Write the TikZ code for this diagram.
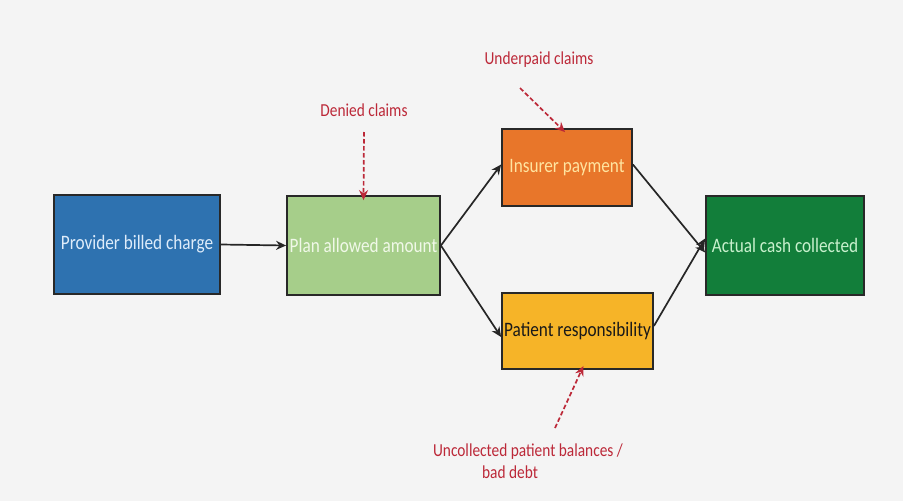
\documentclass[tikz,border=0pt]{standalone}
\usepackage{fontspec}
\setmainfont{Carlito}
\usetikzlibrary{arrows.meta}
\definecolor{bgc}{RGB}{244,244,244}
\definecolor{provc}{RGB}{46,114,176}
\definecolor{planc}{RGB}{166,206,138}
\definecolor{insc}{RGB}{232,118,42}
\definecolor{patc}{RGB}{246,180,40}
\definecolor{actc}{RGB}{18,126,58}
\definecolor{redc}{RGB}{188,40,56}
\definecolor{edgec}{RGB}{40,40,40}
\newcommand{\sq}[1]{\scalebox{0.84}[1]{#1}}
\tikzset{
  box/.style={draw=edgec, line width=1.8pt, minimum width=#1, inner sep=0pt, font=\fontsize{20.5}{24}\selectfont},
  box/.default=150pt,
  conn/.style={-{Stealth[length=10pt,width=9pt]}, line width=1.7pt, black!85},
  dconn/.style={-{Stealth[length=10pt,width=9pt]}, line width=1.7pt, redc, dash pattern=on 4.5pt off 2.5pt},
  lbl/.style={text=redc, font=\fontsize{18.3}{22}\selectfont, align=center, inner sep=0pt}
}
\begin{document}
\begin{tikzpicture}[x=1pt,y=-1pt]
\fill[bgc] (0,0) rectangle (903,501);
\useasboundingbox (0,0) rectangle (903,501);
\node[box=166pt, minimum height=99pt, fill=provc, text={rgb,255:red,222;green,236;blue,250}] (prov) at (137,244.5) {\sq{Provider billed charge}};
\node[box=153pt, minimum height=99pt, fill=planc, text={rgb,255:red,240;green,248;blue,232}] (plan) at (363.5,245.5) {\sq{Plan allowed amount}};
\node[box=130pt, minimum height=77pt, fill=insc, text={rgb,255:red,255;green,228;blue,160}] (ins) at (567,167.5) {\sq{Insurer payment}};
\node[box=151pt, minimum height=76pt, fill=patc, text=black!90] (pat) at (577.5,331) {\sq{Patient responsibility}};
\node[box=158pt, minimum height=99pt, fill=actc, text={rgb,255:red,200;green,240;blue,205}] (act) at (785,245.5) {\sq{Actual cash collected}};

\node[lbl] (den) at (364,110) {\sq{Denied claims}};
\node[lbl] (und) at (539,60) {\sq{Underpaid claims}};
\node[lbl] (unc) at (528,461) {\sq{Uncollected patient balances /}\\\hspace*{-36pt}\sq{bad debt}};

\draw[conn] (prov.east) -- (plan.west);
\draw[conn] (plan.east) -- ([yshift=3pt]ins.west);
\draw[conn] (plan.east) -- ([yshift=-6pt]pat.west);
\draw[conn] ([yshift=3pt]ins.east) -- ([yshift=-7pt]act.west);
\draw[conn] ([yshift=5pt]pat.east) -- ([yshift=7pt]act.west);

\coordinate (denA) at (364,132);
\coordinate (undA) at (520,88);
\coordinate (uncA) at (555,428);
\draw[dconn] (denA) -- ([yshift=-5pt]plan.north);
\draw[dconn] (undA) -- ([xshift=-2pt,yshift=-4pt]ins.north);
\draw[dconn] (uncA) -- ([xshift=6pt,yshift=4pt]pat.south);
\end{tikzpicture}
\end{document}
